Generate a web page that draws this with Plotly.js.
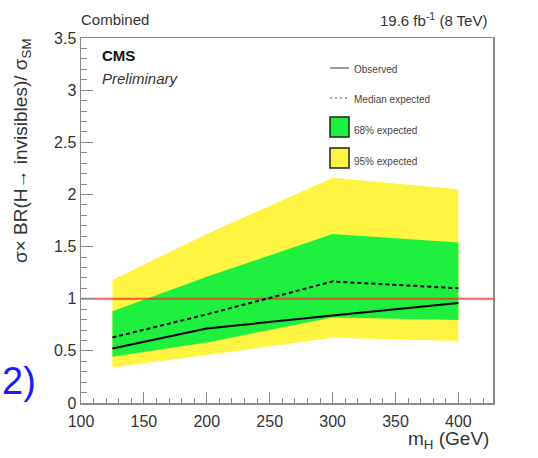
<!DOCTYPE html>
<html>
<head>
<meta charset="utf-8">
<script src="https://cdn.plot.ly/plotly-3.0.1.min.js"></script>
<style>html,body{margin:0;padding:0;background:#fff;}#chart{width:538px;height:458px;}</style>
</head>
<body>
<div id="chart"></div>
<script>
// Data
const massPoints = [125, 200, 300, 400];
const observed   = [0.523, 0.714, 0.84, 0.96];
const medianExp  = [0.628, 0.85, 1.165, 1.10];
const band68Low  = [0.443, 0.58, 0.82, 0.795];
const band68High = [0.88, 1.21, 1.62, 1.54];
const band95Low  = [0.34, 0.46, 0.625, 0.595];
const band95High = [1.18, 1.62, 2.16, 2.05];
const smReference = 1;
const xRange = [100, 427.5];
const yRange = [0, 3.5];
const xTicks = [100, 150, 200, 250, 300, 350, 400];
const yTicks = [0, 0.5, 1, 1.5, 2, 2.5, 3, 3.5];

// Layout geometry (pixels)
const W = 538, H = 458, L = 81, R = 45, T = 38, B = 55;
const pw = W - L - R, ph = H - T - B;
const px = v => (v - L) / pw;
const py = v => (H - B - v) / ph;

function bandPolygon(low, high) {
  return {
    x: massPoints.concat(massPoints.slice().reverse()),
    y: high.concat(low.slice().reverse())
  };
}
const b95 = bandPolygon(band95Low, band95High);
const b68 = bandPolygon(band68Low, band68High);

const FONT = '"Liberation Sans", Arial, Helvetica, sans-serif';
const traces = [
  {x: b95.x, y: b95.y, type: 'scatter', mode: 'lines', fill: 'toself',
   fillcolor: '#fff442', line: {width: 0, color: '#fff442'}, name: '95% expected', hoverinfo: 'skip'},
  {x: b68.x, y: b68.y, type: 'scatter', mode: 'lines', fill: 'toself',
   fillcolor: '#1ff03f', line: {width: 0, color: '#1ff03f'}, name: '68% expected', hoverinfo: 'skip'},
  {x: xRange, y: [smReference, smReference], type: 'scatter', mode: 'lines',
   line: {color: 'rgba(255,40,40,0.75)', width: 2}, name: 'SM'},
  {x: massPoints, y: medianExp, type: 'scatter', mode: 'lines',
   line: {color: '#000', width: 2, dash: '4px,3px'}, name: 'Median expected'},
  {x: massPoints, y: observed, type: 'scatter', mode: 'lines',
   line: {color: '#000', width: 2}, name: 'Observed'}
];

const axisCommon = {
  showgrid: false, zeroline: false, showline: true, mirror: true,
  linecolor: '#8a8a8a', linewidth: 1.5, ticks: 'inside', tickcolor: '#8a8a8a',
  tickwidth: 1, ticklen: 11,
  tickfont: {family: FONT, size: 16, color: '#333'}
};

const annText = (x, y, text, opts) => Object.assign({
  xref: 'paper', yref: 'paper', x: px(x), y: py(y), text: text, showarrow: false,
  xanchor: 'left', yanchor: 'middle', font: {family: FONT, size: 16, color: '#333'}
}, opts || {});

const layout = {
  width: W, height: H,
  margin: {l: L, r: R, t: T, b: B},
  paper_bgcolor: '#fff', plot_bgcolor: '#fff',
  showlegend: false,
  xaxis: Object.assign({}, axisCommon, {
    range: xRange, tickvals: xTicks, ticklabelstandoff: 3,
    minor: {dtick: 10, tick0: 100, ticks: 'inside', ticklen: 5, tickcolor: '#8a8a8a'}
  }),
  yaxis: Object.assign({}, axisCommon, {
    range: yRange, tickvals: yTicks, ticklen: 12,
    minor: {dtick: 0.1, tick0: 0, ticks: 'inside', ticklen: 6, tickcolor: '#8a8a8a'}
  }),
  shapes: [
    {type: 'line', xref: 'paper', yref: 'paper', x0: px(330), x1: px(349), y0: py(68), y1: py(68),
     line: {color: '#555', width: 1.2}},
    {type: 'line', xref: 'paper', yref: 'paper', x0: px(330), x1: px(349), y0: py(98), y1: py(98),
     line: {color: '#555', width: 1.2, dash: '2px,3px'}},
    {type: 'rect', xref: 'paper', yref: 'paper', x0: px(330), x1: px(349), y0: py(117), y1: py(137),
     fillcolor: '#1ff03f', line: {color: '#222', width: 1.5}},
    {type: 'rect', xref: 'paper', yref: 'paper', x0: px(330), x1: px(349), y0: py(148), y1: py(168),
     fillcolor: '#fff442', line: {color: '#222', width: 1.5}}
  ],
  annotations: [
    annText(79, 20, 'Combined', {font: {family: FONT, size: 15, color: '#333'}}),
    annText(489, 19, '19.6 fb<sup>-1</sup> (8 TeV)', {xanchor: 'right', font: {family: FONT, size: 15, color: '#333'}}),
    annText(100, 55, '<b>CMS</b>', {font: {family: FONT, size: 15, color: '#111'}}),
    annText(100, 78, '<i>Preliminary</i>', {font: {family: FONT, size: 15, color: '#333'}}),
    annText(352, 69, 'Observed', {font: {family: FONT, size: 10, color: '#444'}}),
    annText(352, 100, 'Median expected', {font: {family: FONT, size: 10, color: '#444'}}),
    annText(352, 130, '68% expected', {font: {family: FONT, size: 10, color: '#444'}}),
    annText(352, 161, '95% expected', {font: {family: FONT, size: 10, color: '#444'}}),
    annText(22, 37, 'σ× BR(H→ invisibles)/ σ<sub>SM</sub>', {textangle: -90, xanchor: 'center', yanchor: 'top',
      font: {family: FONT, size: 19, color: '#333'}}),
    annText(491, 440, 'm<sub>H</sub> (GeV)', {xanchor: 'right', font: {family: FONT, size: 19, color: '#333'}}),
    annText(0, 381, '2)', {xanchor: 'left', font: {family: FONT, size: 38, color: '#1a1aff'}})
  ]
};

Plotly.newPlot('chart', traces, layout, {staticPlot: true, displayModeBar: false});
</script>
</body>
</html>
